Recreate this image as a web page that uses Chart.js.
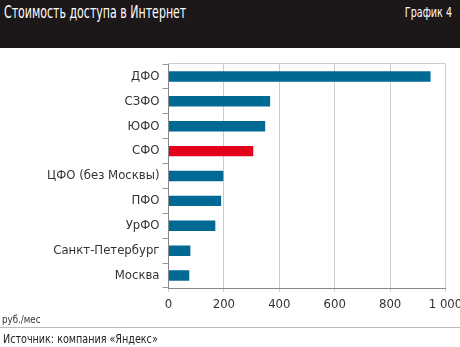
<!DOCTYPE html>
<html>
<head>
<meta charset="utf-8">
<script src="https://cdn.jsdelivr.net/npm/chart.js@4"></script>
<style>
  body { margin: 0; width: 460px; height: 347px; background: #fff; position: relative; overflow: hidden;
         font-family: "DejaVu Sans Condensed", "Liberation Sans Narrow", sans-serif; }
  #head { position: absolute; left: 0; top: 0; width: 460px; height: 48px; background: #1c1719; color: #fff; }
  #title { position: absolute; left: 4px; top: 2px; font-size: 17px; white-space: nowrap;
           transform: scaleX(0.72); transform-origin: 0 0; }
  #num { position: absolute; right: 8px; top: 4px; font-size: 14px; white-space: nowrap;
         transform: scaleX(0.76); transform-origin: 100% 0; }
  #box { position: absolute; left: 0; top: 48px; width: 460px; height: 280px; }
  #unit { position: absolute; left: 2px; top: 313px; font-size: 11px; color: #333; white-space: nowrap;
          transform: scaleX(0.88); transform-origin: 0 0; }
  #rule { position: absolute; left: 0; top: 327px; width: 460px; height: 1px; background: #bbb; }
  #src { position: absolute; left: 3px; top: 331px; font-size: 13px; color: #222; white-space: nowrap;
         transform: scaleX(0.82); transform-origin: 0 0; }
</style>
</head>
<body>
<div id="head"><div id="title">Стоимость доступа в Интернет</div><div id="num">График 4</div></div>
<div id="box"><canvas id="chart"></canvas></div>
<div id="unit">руб./мес</div>
<div id="rule"></div>
<div id="src">Источник: компания «Яндекс»</div>
<script>
// --- DATA ---
const regions = ["ДФО", "СЗФО", "ЮФО", "СФО", "ЦФО (без Москвы)", "ПФО", "УрФО", "Санкт-Петербург", "Москва"];
const prices = [946, 367, 349, 306, 198, 190, 169, 79, 75];
const highlight = "СФО";
const xTickLabels = ["0", "200", "400", "600", "800", "1 000"];

const BLUE = "#006a94";
const RED = "#e3001b";
const FONT = "'DejaVu Sans Condensed', 'Liberation Sans Narrow', sans-serif";

// top border of the plot
const topLine = {
  id: "topLine",
  afterDraw(chart) {
    const { ctx, chartArea: a } = chart;
    ctx.save();
    ctx.strokeStyle = "#ccc";
    ctx.lineWidth = 1;
    ctx.beginPath();
    ctx.moveTo(a.left, a.top - 0.5);
    ctx.lineTo(a.right, a.top - 0.5);
    ctx.stroke();
    ctx.restore();
  }
};

new Chart(document.getElementById("chart"), {
  type: "bar",
  data: {
    labels: regions,
    datasets: [{
      data: prices,
      backgroundColor: regions.map(r => r === highlight ? RED : BLUE),
      barPercentage: 0.42,
      categoryPercentage: 1
    }]
  },
  options: {
    indexAxis: "y",
    responsive: true,
    maintainAspectRatio: false,
    animation: false,
    layout: { padding: { top: 16, right: 14.5, left: 0, bottom: 0 } },
    plugins: { legend: { display: false }, tooltip: { enabled: false } },
    scales: {
      y: {
        grid: { drawOnChartArea: false, offset: true, tickLength: 6, color: "#999" },
        border: { color: "#888" },
        ticks: { padding: 3, color: "#333", font: { family: FONT, size: 13 } },
        afterFit(s) { s.width = 168.5; }
      },
      x: {
        min: 0, max: 1000,
        ticks: { stepSize: 200, padding: 5, color: "#333", font: { family: FONT, size: 13 },
                 maxRotation: 0, callback: (v, i) => xTickLabels[i] },
        grid: { color: "#ccc", tickLength: 4 },
        border: { color: "#888" },
        afterFit(s) { s.height = 40; s.paddingRight = 0; s.paddingLeft = 0; }
      }
    }
  },
  plugins: [topLine]
});
</script>
</body>
</html>
